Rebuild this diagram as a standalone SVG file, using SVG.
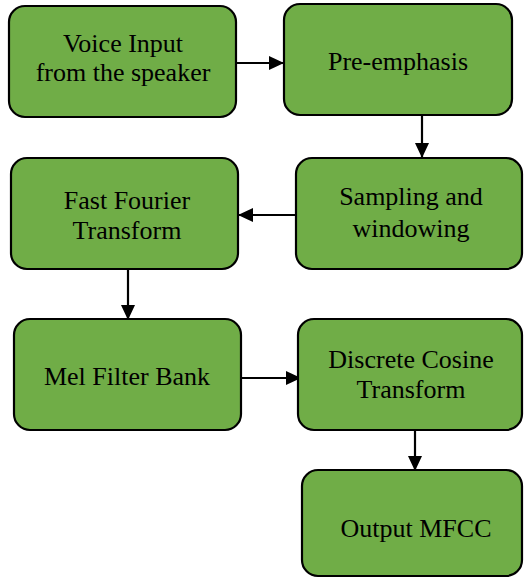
<svg xmlns="http://www.w3.org/2000/svg" width="528" height="578" viewBox="0 0 528 578">
<style>
.box{fill:#70AD47;stroke:#000;stroke-width:2.2}
.t{font-family:"Liberation Serif","Times New Roman",serif;font-size:26px;fill:#000;text-anchor:middle}
.c{stroke:#000;stroke-width:2.2;fill:none;marker-end:url(#ah)}
</style>
<defs>
<marker id="ah" markerUnits="userSpaceOnUse" markerWidth="15" markerHeight="15" viewBox="0 0 15 15" refX="15" refY="7.5" orient="auto">
<path d="M0,0.5 L15,7.5 L0,14.5 Z" fill="#000"/>
</marker>
</defs>
<rect width="528" height="578" fill="#fff"/>
<g id="connectors">
<line class="c" x1="236" y1="63" x2="284" y2="63"/>
<line class="c" x1="422" y1="115" x2="422" y2="158"/>
<line class="c" x1="296" y1="215" x2="238" y2="215"/>
<line class="c" x1="128" y1="269" x2="128" y2="320"/>
<line class="c" x1="241" y1="378" x2="301" y2="378"/>
<line class="c" x1="415" y1="430" x2="415" y2="471"/>
</g>
<g id="voice-input">
<rect class="box" x="9" y="6" width="227" height="111" rx="16"/>
<text class="t" x="123" y="52">Voice Input</text>
<text class="t" x="123" y="81">from the speaker</text>
</g>
<g id="pre-emphasis">
<rect class="box" x="284" y="4" width="228" height="111" rx="16"/>
<text class="t" x="398" y="70">Pre-emphasis</text>
</g>
<g id="sampling">
<rect class="box" x="296" y="158" width="226" height="111" rx="16"/>
<text class="t" x="411" y="205">Sampling and</text>
<text class="t" x="411" y="237">windowing</text>
</g>
<g id="fft">
<rect class="box" x="11" y="158" width="227" height="111" rx="16"/>
<text class="t" x="127" y="209">Fast Fourier</text>
<text class="t" x="127" y="239">Transform</text>
</g>
<g id="mel">
<rect class="box" x="14" y="319" width="227" height="111" rx="16"/>
<text class="t" x="127" y="385">Mel Filter Bank</text>
</g>
<g id="dct">
<rect class="box" x="298" y="319" width="224" height="111" rx="16"/>
<text class="t" x="411" y="368">Discrete Cosine</text>
<text class="t" x="411" y="398">Transform</text>
</g>
<g id="output">
<rect class="box" x="302" y="470" width="220" height="106" rx="16"/>
<text class="t" x="416" y="537">Output MFCC</text>
</g>
</svg>
